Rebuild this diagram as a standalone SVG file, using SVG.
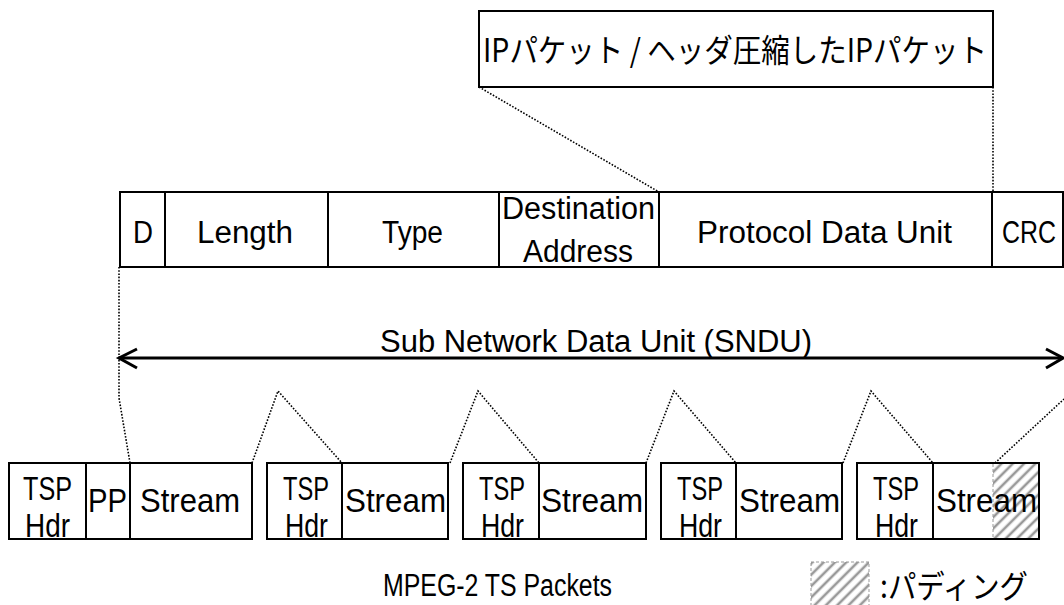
<svg xmlns="http://www.w3.org/2000/svg" width="1064" height="605" viewBox="0 0 1064 605">
<style>
.box{fill:#fff;stroke:#000;stroke-width:2}
.div{stroke:#000;stroke-width:2;fill:none}
.dot{stroke:#000;stroke-width:1.6;stroke-dasharray:1.6 1.6;fill:none}
.t{font-family:"Liberation Sans","Noto Sans CJK JP",sans-serif;font-size:31px;fill:#000}
.tb{font-family:"Liberation Sans","Noto Sans CJK JP",sans-serif;font-size:34px;fill:#000}
.j{font-family:"Noto Sans CJK JP","Liberation Sans",sans-serif;font-size:32px;fill:#000}
</style>
<defs>
<pattern id="hatch" patternUnits="userSpaceOnUse" width="8" height="8" patternTransform="rotate(45)">
<rect width="8" height="8" fill="#fff"/>
<line x1="4" y1="0" x2="4" y2="8" stroke="#999" stroke-width="2.6"/>
</pattern>
</defs>

<g id="connectors">
<path class="dot" d="M479,87 L659,192"/>
<path class="dot" d="M993,87 L993,192"/>
<path class="dot" d="M119,267 L119,398 L130,463"/>
<path class="dot" d="M252,463 L278,391 L342,463"/>
<path class="dot" d="M450,463 L478,391 L539,463"/>
<path class="dot" d="M646,463 L674,391 L736,463"/>
<path class="dot" d="M843,463 L871,391 L933,463"/>
<path class="dot" d="M995,463 L1064,399"/>
</g>

<g id="ip-packet">
<rect class="box" x="479" y="11" width="514" height="76"/>
<text class="j" x="483" y="62" textLength="504" lengthAdjust="spacingAndGlyphs">IPパケット / ヘッダ圧縮したIPパケット</text>
</g>

<g id="sndu">
<rect class="box" x="120" y="192" width="943" height="75"/>
<path class="div" d="M165,192V267M328,192V267M499,192V267M659,192V267M992,192V267"/>
<text class="t" x="133" y="243" textLength="20" lengthAdjust="spacingAndGlyphs">D</text>
<text class="t" x="197" y="243" textLength="96" lengthAdjust="spacingAndGlyphs">Length</text>
<text class="t" x="382" y="243" textLength="61" lengthAdjust="spacingAndGlyphs">Type</text>
<text class="t" x="502" y="219" textLength="153" lengthAdjust="spacingAndGlyphs">Destination</text>
<text class="t" x="523" y="262" textLength="110" lengthAdjust="spacingAndGlyphs">Address</text>
<text class="t" x="697" y="243" textLength="255" lengthAdjust="spacingAndGlyphs">Protocol Data Unit</text>
<text class="t" x="1002" y="243" textLength="54" lengthAdjust="spacingAndGlyphs">CRC</text>
</g>

<g id="sndu-span">
<path d="M119,358H1062" stroke="#000" stroke-width="3" fill="none"/>
<path d="M137,349L119,358L137,368" stroke="#000" stroke-width="3" fill="none"/>
<path d="M1046,349L1063,358L1046,368" stroke="#000" stroke-width="3" fill="none"/>
<text class="t" x="380" y="352" textLength="432" lengthAdjust="spacingAndGlyphs">Sub Network Data Unit (SNDU)</text>
</g>

<g id="ts1">
<rect class="box" x="9" y="463" width="243" height="76"/>
<path class="div" d="M86,463V539M130,463V539"/>
<text class="tb" x="23" y="500" textLength="49" lengthAdjust="spacingAndGlyphs">TSP</text>
<text class="tb" x="25" y="537" textLength="45" lengthAdjust="spacingAndGlyphs">Hdr</text>
<text class="tb" x="88" y="512" textLength="39" lengthAdjust="spacingAndGlyphs">PP</text>
<text class="tb" x="140" y="512" textLength="100" lengthAdjust="spacingAndGlyphs">Stream</text>
</g>

<g id="ts2">
<rect class="box" x="267" y="463" width="181" height="76"/>
<path class="div" d="M342,463V539"/>
<text class="tb" x="283" y="500" textLength="46" lengthAdjust="spacingAndGlyphs">TSP</text>
<text class="tb" x="285" y="537" textLength="43" lengthAdjust="spacingAndGlyphs">Hdr</text>
<text class="tb" x="345" y="512" textLength="101" lengthAdjust="spacingAndGlyphs">Stream</text>
</g>

<g id="ts3">
<rect class="box" x="463" y="463" width="183" height="76"/>
<path class="div" d="M539,463V539"/>
<text class="tb" x="479" y="500" textLength="46" lengthAdjust="spacingAndGlyphs">TSP</text>
<text class="tb" x="481" y="537" textLength="43" lengthAdjust="spacingAndGlyphs">Hdr</text>
<text class="tb" x="541" y="512" textLength="102" lengthAdjust="spacingAndGlyphs">Stream</text>
</g>

<g id="ts4">
<rect class="box" x="661" y="463" width="181" height="76"/>
<path class="div" d="M736,463V539"/>
<text class="tb" x="677" y="500" textLength="46" lengthAdjust="spacingAndGlyphs">TSP</text>
<text class="tb" x="679" y="537" textLength="43" lengthAdjust="spacingAndGlyphs">Hdr</text>
<text class="tb" x="739" y="512" textLength="101" lengthAdjust="spacingAndGlyphs">Stream</text>
</g>

<g id="ts5">
<rect class="box" x="857" y="463" width="182" height="76"/>
<rect x="993" y="464" width="45" height="74" fill="url(#hatch)"/>
<path d="M993,464V538" stroke="#999" stroke-width="1" stroke-dasharray="3 2"/>
<path class="div" d="M933,463V539"/>
<text class="tb" x="873" y="500" textLength="46" lengthAdjust="spacingAndGlyphs">TSP</text>
<text class="tb" x="875" y="537" textLength="43" lengthAdjust="spacingAndGlyphs">Hdr</text>
<text class="tb" x="936" y="512" textLength="101" lengthAdjust="spacingAndGlyphs">Stream</text>
</g>

<g id="caption">
<text class="t" x="383" y="596" textLength="229" lengthAdjust="spacingAndGlyphs">MPEG-2 TS Packets</text>
</g>

<g id="legend">
<rect x="811" y="562" width="58" height="44" fill="url(#hatch)" stroke="#999" stroke-width="1" stroke-dasharray="3 2"/>
<text class="j" x="880" y="598" textLength="148" lengthAdjust="spacingAndGlyphs">:パディング</text>
</g>
</svg>
